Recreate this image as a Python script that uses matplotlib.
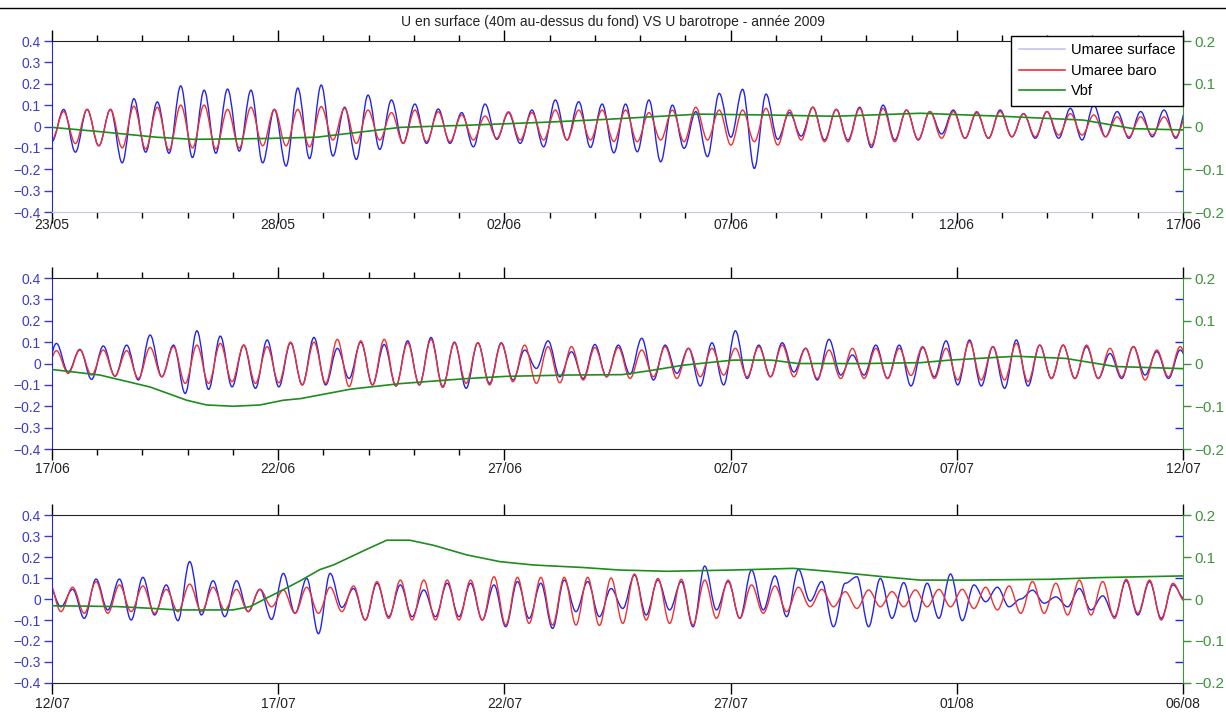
import numpy as np
import pandas as pd
import matplotlib
matplotlib.use("Agg")
import matplotlib.pyplot as plt
from matplotlib.lines import Line2D
from matplotlib.path import Path
from matplotlib.patches import PathPatch
from matplotlib.ticker import FixedLocator, FuncFormatter
import matplotlib.dates as mdates

plt.rcParams["font.family"] = ["Liberation Sans", "DejaVu Sans"]

# panel limits (dates)
PANEL_EDGES = ["2009-05-23", "2009-06-17", "2009-07-12", "2009-08-06"]

# tidal current extrema (m/s), one value per half M2 period, trough/peak alternating
HALF_PERIOD_H = 6.21

u_surface_1 = [
    -0.07, 0.08, -0.12, 0.08, -0.09, 0.08, -0.17, 0.13, -0.12, 0.115,
    -0.125, 0.19, -0.145, 0.17, -0.125, 0.175, -0.115, 0.17, -0.17, 0.08,
    -0.185, 0.18, -0.15, 0.194, -0.138, 0.09, -0.154, 0.147, -0.107, 0.124,
    -0.079, 0.105, -0.079, 0.082, -0.079, 0.065, -0.095, 0.105, -0.06, 0.065,
    -0.079, 0.077, -0.095, 0.124, -0.063, 0.116, -0.098, 0.105, -0.123, 0.105,
    -0.118, 0.124, -0.165, 0.1, -0.102, 0.07, -0.141, 0.155, -0.05, 0.174,
    -0.196, 0.152, -0.06, 0.065, -0.045, 0.09, -0.063, 0.08, -0.063, 0.09,
    -0.098, 0.1, -0.063, 0.077, -0.063, 0.07, -0.035, 0.077, -0.055, 0.065,
    -0.055, 0.077, -0.048, 0.06, -0.055, 0.07, -0.055, 0.085, -0.063, 0.1,
    -0.048, 0.07, -0.055, 0.07, -0.048, 0.077, -0.055,
]
u_baro_1 = [
    -0.06, 0.07, -0.08, 0.08, -0.09, 0.08, -0.10, 0.095, -0.105, 0.09,
    -0.11, 0.10, -0.10, 0.10, -0.105, 0.08, -0.10, 0.09, -0.09, 0.08,
    -0.09, 0.08, -0.095, 0.093, -0.063, 0.085, -0.079, 0.077, -0.063, 0.065,
    -0.079, 0.077, -0.071, 0.069, -0.071, 0.054, -0.063, 0.049, -0.055, 0.069,
    -0.063, 0.065, -0.063, 0.077, -0.063, 0.077, -0.063, 0.077, -0.07, 0.077,
    -0.071, 0.065, -0.063, 0.077, -0.071, 0.09, -0.063, 0.077, -0.087, 0.077,
    -0.071, 0.085, -0.087, 0.077, -0.063, 0.09, -0.071, 0.08, -0.071, 0.085,
    -0.087, 0.085, -0.071, 0.077, -0.06, 0.07, -0.055, 0.07, -0.055, 0.07,
    -0.055, 0.07, -0.048, 0.06, -0.048, 0.07, -0.04, 0.06, -0.04, 0.054,
    -0.048, 0.045, -0.048, 0.045, -0.04, 0.045, -0.048,
]
u_surface_2 = [
    0.094, -0.04, 0.066, -0.074, 0.082, -0.06, 0.086, -0.077, 0.133, -0.062,
    0.086, -0.14, 0.153, -0.121, 0.128, -0.109, 0.086, -0.116, 0.11, -0.109,
    0.097, -0.1, 0.122, -0.1, 0.071, -0.07, 0.1, -0.1, 0.089, -0.105,
    0.106, -0.1, 0.122, -0.108, 0.1, -0.116, 0.097, -0.093, 0.097, -0.077,
    0.063, -0.023, 0.106, -0.062, 0.055, -0.07, 0.089, -0.062, 0.086, -0.05,
    0.118, -0.077, 0.086, -0.046, 0.071, -0.105, 0.097, -0.1, 0.153, -0.07,
    0.086, -0.062, 0.097, -0.04, 0.071, -0.077, 0.113, -0.054, 0.04, -0.054,
    0.086, -0.07, 0.086, -0.105, 0.075, -0.062, 0.106, -0.1, 0.11, -0.105,
    0.079, -0.116, 0.11, -0.105, 0.086, -0.07, 0.086, -0.07, 0.079, -0.07,
    0.047, -0.07, 0.079, -0.054, 0.055, -0.07, 0.063,
]
u_baro_2 = [
    0.06, -0.046, 0.063, -0.054, 0.063, -0.058, 0.06, -0.07, 0.075, -0.062,
    0.079, -0.093, 0.086, -0.093, 0.094, -0.085, 0.086, -0.093, 0.079, -0.09,
    0.1, -0.1, 0.1, -0.093, 0.113, -0.108, 0.106, -0.1, 0.113, -0.105,
    0.097, -0.1, 0.113, -0.112, 0.097, -0.093, 0.097, -0.1, 0.094, -0.085,
    0.086, -0.093, 0.079, -0.09, 0.079, -0.077, 0.075, -0.062, 0.075, -0.07,
    0.063, -0.062, 0.079, -0.07, 0.071, -0.062, 0.071, -0.054, 0.071, -0.062,
    0.079, -0.062, 0.086, -0.062, 0.071, -0.07, 0.063, -0.07, 0.071, -0.07,
    0.071, -0.07, 0.071, -0.056, 0.079, -0.07, 0.071, -0.077, 0.102, -0.077,
    0.079, -0.077, 0.094, -0.085, 0.086, -0.07, 0.086, -0.07, 0.086, -0.07,
    0.071, -0.062, 0.079, -0.077, 0.063, -0.062, 0.079,
]
u_surface_3 = [
    -0.037, 0.046, -0.092, 0.095, -0.052, 0.095, -0.1, 0.103, -0.076, 0.067,
    -0.103, 0.178, -0.076, 0.087, -0.084, 0.087, -0.06, 0.046, -0.097, 0.122,
    -0.068, 0.098, -0.165, 0.122, -0.04, 0.05, -0.1, 0.075, -0.084, 0.067,
    -0.084, 0.043, -0.084, 0.075, -0.084, 0.075, -0.1, 0.067, -0.132, 0.083,
    -0.092, 0.075, -0.14, 0.09, -0.06, 0.083, -0.084, 0.05, -0.045, 0.114,
    -0.076, 0.09, -0.052, 0.083, -0.132, 0.157, -0.052, 0.083, -0.092, 0.138,
    -0.052, 0.11, -0.084, 0.141, -0.01, 0.083, -0.132, 0.075, 0.106, -0.132,
    0.098, -0.092, 0.078, -0.108, 0.075, -0.092, 0.119, -0.103, 0.067, -0.013,
    0.056, -0.037, 0.0, 0.042, -0.02, 0.01, -0.037, 0.05, -0.052, 0.015,
    -0.084, 0.087, -0.076, 0.083, -0.092, 0.067, 0.0,
]
u_baro_3 = [
    -0.06, 0.056, -0.068, 0.083, -0.068, 0.067, -0.06, 0.062, -0.068, 0.046,
    -0.06, 0.071, -0.06, 0.056, -0.052, 0.046, -0.06, 0.046, -0.037, 0.043,
    -0.068, 0.056, -0.068, 0.056, -0.06, 0.062, -0.1, 0.083, -0.092, 0.09,
    -0.1, 0.09, -0.1, 0.09, -0.1, 0.09, -0.1, 0.106, -0.124, 0.103,
    -0.116, 0.103, -0.124, 0.103, -0.124, 0.103, -0.126, 0.1, -0.116, 0.119,
    -0.1, 0.098, -0.116, 0.094, -0.124, 0.09, -0.092, 0.09, -0.092, 0.067,
    -0.068, 0.062, -0.06, 0.056, -0.037, 0.046, -0.037, 0.035, -0.045, 0.043,
    -0.037, 0.035, -0.037, 0.043, -0.037, 0.046, -0.037, 0.046, -0.045, 0.056,
    -0.052, 0.062, -0.068, 0.083, -0.068, 0.075, -0.076, 0.09, -0.076, 0.083,
    -0.092, 0.094, -0.068, 0.09, -0.1, 0.075, -0.01,
]

# Vbf (right axis), days from panel start / value
vbf_days_1 = [0, 1.06, 2.31, 3.12, 4.74, 5.85, 7.7, 9.17, 10.9, 12.3, 14.3, 15.8,
              17.3, 19.2, 21.0, 22.8, 23.9, 25.0]
vbf_1 = [-0.002, -0.012, -0.025, -0.03, -0.028, -0.025, -0.002, 0.003, 0.01, 0.017,
         0.029, 0.027, 0.024, 0.031, 0.024, 0.015, -0.005, -0.008]
vbf_days_2 = [0, 1.06, 2.17, 2.98, 3.42, 4.01, 4.6, 5.11, 5.5, 6.6, 7.7, 9.2, 10.05,
              11.4, 12.6, 13.2, 13.95, 15.06, 15.9, 16.5, 18.0, 19.2, 19.85, 21.3,
              22.4, 23.5, 25.0]
vbf_2 = [-0.014, -0.027, -0.055, -0.086, -0.097, -0.1, -0.097, -0.086, -0.082, -0.06,
         -0.047, -0.035, -0.03, -0.027, -0.026, -0.017, -0.004, 0.008, 0.008, 0.0,
         0.0, 0.002, 0.008, 0.017, 0.012, -0.007, -0.012]
vbf_days_3 = [0, 1.43, 2.16, 2.75, 4.0, 4.38, 4.74, 5.11, 5.48, 5.92, 6.22, 6.95, 7.4,
              7.91, 8.43, 9.17, 9.9, 10.64, 11.74, 12.55, 13.6, 15.06, 16.39, 17.27,
              18.38, 19.19, 20.22, 22.06, 23.17, 25.0]
vbf_3 = [-0.016, -0.018, -0.022, -0.026, -0.026, -0.018, 0.002, 0.022, 0.043, 0.07,
         0.081, 0.118, 0.14, 0.14, 0.128, 0.105, 0.089, 0.081, 0.075, 0.069, 0.066,
         0.069, 0.073, 0.065, 0.053, 0.045, 0.045, 0.047, 0.051, 0.055]

left_ticks = [-0.4, -0.3, -0.2, -0.1, 0, 0.1, 0.2, 0.3, 0.4]
right_ticks = [-0.2, -0.1, 0, 0.1, 0.2]
# daily minor ticks on the date axis, per panel (days from start)
minor_days = [
    [d for d in range(1, 25) if d % 5],
    [1, 2, 3, 4, 6, 7, 8, 9],
    [],
]

BLUE = "#2323ee"
RED = "#f03030"
GREEN = "#1e8c1e"
LBLUE = "#3b3bcf"
LGREEN = "#3d943d"

u_surface = u_surface_1 + u_surface_2 + u_surface_3
u_baro = u_baro_1 + u_baro_2 + u_baro_3
t0 = pd.Timestamp(PANEL_EDGES[0])
times = t0 + pd.to_timedelta(np.arange(len(u_surface)) * HALF_PERIOD_H, unit="h")
tnum = mdates.date2num(times.to_pydatetime())


def fmt_num(v, pos=None):
    return ("%g" % round(v, 2)).replace("-", "\u2212")


def tide_path(x, y, c=0.36):
    """Extrema joined by cubic curves with flat tangents (tide-like shape)."""
    verts = [(x[0], y[0])]
    codes = [Path.MOVETO]
    for k in range(len(x) - 1):
        dx = x[k + 1] - x[k]
        verts += [(x[k] + c * dx, y[k]), (x[k + 1] - c * dx, y[k + 1]),
                  (x[k + 1], y[k + 1])]
        codes += [Path.CURVE4] * 3
    return Path(verts, codes)


fig = plt.figure(figsize=(12.26, 7.16), dpi=100)
positions = [
    [0.0424, 0.7039, 0.9225, 0.2388],
    [0.0424, 0.3729, 0.9225, 0.2388],
    [0.0424, 0.0461, 0.9225, 0.2346],
]
label_pads = [-3.5, 1, 2]
vbf_sets = [(vbf_days_1, vbf_1), (vbf_days_2, vbf_2), (vbf_days_3, vbf_3)]

for i, pos in enumerate(positions):
    start = pd.Timestamp(PANEL_EDGES[i])
    end = pd.Timestamp(PANEL_EDGES[i + 1])
    x0 = mdates.date2num(start.to_pydatetime())
    x1 = mdates.date2num(end.to_pydatetime())

    ax = fig.add_axes(pos)
    ax.add_patch(PathPatch(tide_path(tnum, u_surface), fill=False,
                           edgecolor=BLUE, lw=1.0))
    ax.add_patch(PathPatch(tide_path(tnum, u_baro), fill=False,
                           edgecolor=RED, lw=1.0))
    ax.set_xlim(x0, x1)
    ax.set_ylim(-0.4, 0.4)

    ax.set_yticks(left_ticks)
    ax.yaxis.set_major_formatter(FuncFormatter(fmt_num))
    ax.tick_params(axis="y", direction="out", length=6, width=1, color=LBLUE,
                   labelcolor=LBLUE, labelsize=10, pad=2)

    majors = pd.date_range(start, end, freq="5D")
    ax.set_xticks(mdates.date2num(majors.to_pydatetime()))
    ax.set_xticklabels([d.strftime("%d/%m") for d in majors])
    ax.xaxis.set_minor_locator(FixedLocator([x0 + d for d in minor_days[i]]))
    ax.tick_params(axis="x", which="major", direction="out", length=8, width=1,
                   top=True, labelsize=10, labelcolor="#222222",
                   pad=label_pads[i])
    ax.tick_params(axis="x", which="minor", direction="out", length=4, width=1,
                   top=True)

    ax.spines["left"].set_color(BLUE)
    ax.spines["top"].set_color("#222222")
    ax.spines["bottom"].set_color("#c8c8d8" if i == 0 else "#222222")
    ax.spines["right"].set_visible(False)

    ax2 = ax.twinx()
    vd, vv = vbf_sets[i]
    ax2.plot([x0 + d for d in vd], vv, color=GREEN, lw=1.2)
    ax2.set_ylim(-0.2, 0.2)
    ax2.set_xlim(x0, x1)
    ax2.set_yticks(right_ticks)
    ax2.yaxis.set_major_formatter(FuncFormatter(fmt_num))
    ax2.set_yticks([-0.15, -0.05, 0.05, 0.15], minor=True)
    ax2.tick_params(axis="y", which="major", direction="out", length=6, width=1,
                    color=LGREEN, labelcolor=LGREEN, labelsize=11, pad=2)
    ax2.tick_params(axis="y", which="minor", direction="in", length=6, width=1,
                    color=BLUE)
    ax2.spines["right"].set_color(LGREEN)
    for s in ("left", "top", "bottom"):
        ax2.spines[s].set_visible(False)

    if i == 0:
        handles = [
            Line2D([], [], color="#c4c4f0", lw=1.2),
            Line2D([], [], color=RED, lw=1.2),
            Line2D([], [], color=GREEN, lw=1.2),
        ]
        leg = ax2.legend(handles, ["Umaree surface", "Umaree baro", "Vbf"],
                         loc="upper right", bbox_to_anchor=(1.0, 1.03),
                         fontsize=10.5, frameon=True, fancybox=False,
                         framealpha=1, edgecolor="black", handlelength=3.2,
                         borderpad=0.5, labelspacing=0.45, handletextpad=0.4,
                         borderaxespad=0)
        leg.get_frame().set_linewidth(1.0)

fig.text(0.5, 0.969, "U en surface (40m au-dessus du fond) VS U barotrope - année 2009",
         ha="center", va="center", fontsize=10, color="#222222")
fig.add_artist(Line2D([0, 1], [0.989, 0.989], color="black", lw=1.0))

fig.savefig("out.png", dpi=100)
